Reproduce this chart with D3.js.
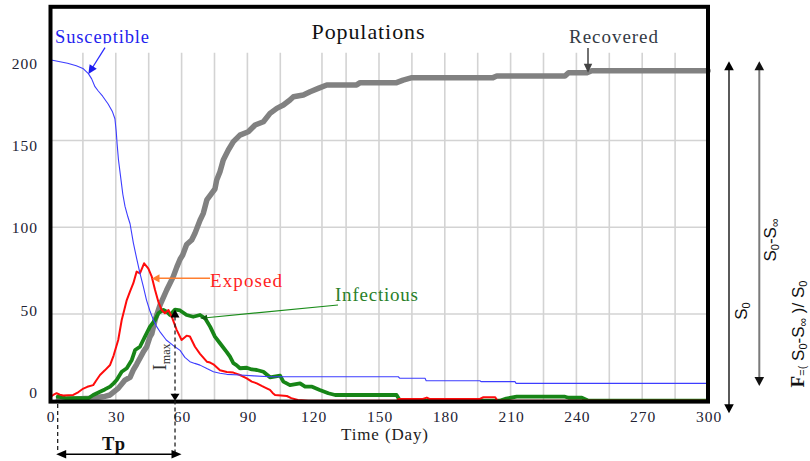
<!DOCTYPE html>
<html>
<head>
<meta charset="utf-8">
<script src="https://cdn.jsdelivr.net/npm/d3@7"></script>
<style>
  html, body { margin: 0; padding: 0; background: #fff; }
  svg { display: block; }
</style>
</head>
<body>
<svg id="chart" width="810" height="461"></svg>
<script>
// ---- data ---------------------------------------------------------------
const xTicks = [0, 30, 60, 90, 120, 150, 180, 210, 240, 270, 300];
const yTicks = [0, 50, 100, 150, 200];
const xGridDays = [15, 30, 45, 60, 75, 90, 105, 124, 135, 150, 165, 180, 195, 210, 225, 240, 255, 270, 285];
const yGridValues = [50, 100, 150];

// [day, individuals]
const susceptible = [
  [0, 196.5], [4, 195.5], [8, 194.5], [12, 193], [15, 191.5], [17.5, 188.5], [19, 185.5],
  [20.5, 181], [22, 178.5], [24, 175.5], [26.5, 171], [28.5, 166.5], [29.6, 162.5],
  [30.2, 155], [30.6, 148], [31.2, 139], [32.3, 128], [33.2, 119], [34.2, 112], [35.5, 106],
  [36.5, 102], [38, 91], [39.5, 82], [41, 73.5], [42.5, 66], [44, 58], [45.5, 52], [47, 47],
  [48.5, 43], [50, 40], [53, 35], [56, 32], [59.3, 29], [61.5, 25], [63.8, 22.5], [66, 21.5],
  [68.4, 20.5], [71.5, 18.5], [74.5, 16.7], [77.5, 15.8], [80.6, 15.2], [86.6, 14.8],
  [93, 14.3], [100, 13.8], [158.8, 13.8], [159.5, 12.9], [171, 12.9], [171.5, 11.5],
  [196, 11.5], [196.5, 11], [212, 11], [212.5, 10], [300, 10]
];
const exposed = [
  [0, 2], [1.5, 3.3], [3, 4.3], [4.5, 3.5], [6, 3], [10.6, 3.3], [13, 5], [15.2, 7], [17, 8],
  [19.7, 9], [21, 11.5], [22.8, 14.8], [25, 17.5], [27.4, 20.6], [29, 26], [31.1, 35],
  [32.7, 46.5], [34, 53], [35, 58], [36.5, 63], [38, 67.7], [39.5, 74.4], [41, 73.4],
  [42.9, 79.2], [44.8, 76.3], [46.4, 71.5], [47.9, 63.8], [49.4, 57], [50.9, 52.3],
  [52.4, 50.4], [54, 52.3], [55.5, 48.4], [57.8, 40.7], [60, 35], [62.3, 37.5], [63.8, 37],
  [66.1, 31.1], [68.4, 27], [71.5, 22.5], [73, 22], [74.5, 21], [77.5, 17.5], [80.6, 16.5],
  [83.6, 16.2], [86.6, 14.8], [89.7, 12.9], [92, 11], [94.3, 10], [96.5, 8.5], [98.8, 7.1],
  [100.3, 6.2], [101.5, 4.5], [102.6, 3.3], [108, 2.7], [110, 1.5], [113, 0.4], [117.8, 0],
  [158, 0], [159, 1], [170, 1], [171.8, 1.8], [173, 1], [196, 1], [197.6, 2], [203, 2],
  [204, 0], [300, 0]
];
const infectious = [
  [3.5, 2.3], [5, 2], [7.6, 1.4], [17.5, 1.4], [19.7, 3.3], [22.8, 5.2], [25, 6.5],
  [27.4, 8.1], [29, 10], [30.4, 11.9], [32.7, 16.7], [35, 18.7], [37.3, 23.5], [38.8, 29.2],
  [41, 31.1], [43.3, 36.9], [45.6, 42.7], [47.9, 46.5], [49.4, 50.4], [51.7, 52.3],
  [53.2, 51.3], [54.7, 49.4], [57, 52.5], [59.3, 52], [62.3, 49.4], [65.3, 48.4],
  [68.4, 49.4], [70.7, 47.5], [73, 42.7], [75.2, 36.9], [77.5, 33.1], [80.6, 28],
  [82, 25.5], [83.6, 21.6], [85, 20.5], [86.6, 18.7], [89.7, 19], [92, 18], [94.3, 17.7],
  [97.3, 16.7], [100.3, 13.5], [104.9, 14.5], [106.4, 11], [109.4, 9], [114, 10],
  [116.3, 8.1], [119.5, 8.1], [123, 6.2], [126.9, 4.3], [130, 3.3], [158, 3.3], [159.6, 0],
  [205, 0], [208, 1.2], [212.8, 2.3], [234.8, 2.3], [236.4, 1.7], [242.5, 1.7], [245.5, 0],
  [300, 0]
];
const recovered = [
  [3.8, 0.4], [10, 0.8], [18.2, 1.4], [22, 2], [25, 2.5], [27.4, 3.3], [29.5, 5.5],
  [31.1, 7.1], [34.2, 11.9], [36.5, 13.5], [38, 17.7], [39.5, 21], [41, 24.5], [42.5, 28],
  [44.1, 31.1], [45.6, 36.9], [46.4, 38.5], [47.9, 46.5], [50.2, 55.2], [53.2, 63.8],
  [56.2, 71.5], [57.8, 77], [59.3, 81.5], [60.5, 84], [62.3, 90], [64.6, 92.6], [66.1, 96.5],
  [68.4, 104], [69.9, 108], [71.5, 115.7], [73.7, 119.5], [75.2, 122], [76, 127.2],
  [77.5, 132], [79, 138.7], [81.3, 144.5], [83.6, 149.3], [86.6, 153.1], [90.4, 155],
  [93.5, 158.9], [97.3, 160.8], [100.3, 165.6], [103.4, 168.5], [106.4, 170.4],
  [109.4, 173.3], [111, 175.2], [115.5, 176.2], [118.6, 178.1], [122.3, 180], [126.2, 182],
  [139.8, 182], [141.4, 183.3], [158, 183.3], [161, 184.8], [165, 186.2], [202, 186.2],
  [203.7, 187.1], [234.8, 187.1], [236.4, 189], [244.8, 189], [247, 190.2], [300, 190.2]
];

// ---- scales ---------------------------------------------------------------
const svg = d3.select("#chart");
const frame = { left: 50.5, top: 6.8, right: 708, bottom: 401.6 };

const x = d3.scaleLinear().domain([0, 300]).range([50, 708]);
const y = d3.scaleLinear().domain([0, 200]).range([400.7, 53.7]);
// tick labels of the value axis sit on their own, slightly tighter spacing
const yLabel = d3.scaleLinear().domain([0, 200]).range([392.5, 63.5]);

const SERIF = "'Liberation Serif', 'Times New Roman', serif";
const SANS = "'Liberation Sans', Arial, sans-serif";

// ---- grid -----------------------------------------------------------------
const grid = svg.append("g").attr("stroke", "#d3d3d3").attr("stroke-width", 1.6);
grid.selectAll("line.v").data(xGridDays).join("line")
  .attr("class", "v")
  .attr("x1", d => x(d)).attr("x2", d => x(d))
  .attr("y1", y(200) - 1).attr("y2", y(0));
grid.selectAll("line.h").data(yGridValues).join("line")
  .attr("class", "h")
  .attr("x1", frame.left).attr("x2", frame.right)
  .attr("y1", d => y(d)).attr("y2", d => y(d));

// ---- series ---------------------------------------------------------------
const line = d3.line().x(d => x(d[0])).y(d => y(d[1])).curve(d3.curveLinear);
const series = [
  { data: recovered,   color: "#818181", width: 5.5 },
  { data: infectious,  color: "#178517", width: 3.8 },
  { data: exposed,     color: "#ff0b0b", width: 2 },
  { data: susceptible, color: "#3d3dff", width: 1.1 }
];
svg.append("g").selectAll("path").data(series).join("path")
  .attr("d", d => line(d.data))
  .attr("fill", "none")
  .attr("stroke", d => d.color)
  .attr("stroke-width", d => d.width)
  .attr("stroke-linejoin", "round")
  .attr("stroke-linecap", "round");

// ---- frame ----------------------------------------------------------------
svg.append("rect")
  .attr("x", frame.left).attr("y", frame.top)
  .attr("width", frame.right - frame.left).attr("height", frame.bottom - frame.top)
  .attr("fill", "none").attr("stroke", "#000").attr("stroke-width", 4);

// ---- axes labels ----------------------------------------------------------
const xAxis = svg.append("g")
  .attr("transform", `translate(0,402)`)
  .call(d3.axisBottom(x).tickValues(xTicks).tickSize(0).tickPadding(9).tickFormat(d3.format("d")));
xAxis.select(".domain").remove();
xAxis.selectAll("text")
  .attr("font-family", SERIF).attr("font-size", 15.5).attr("fill", "#222233")
  .attr("letter-spacing", 1).attr("dx", 0.5);

const yAxis = svg.append("g")
  .attr("transform", `translate(38,0)`)
  .call(d3.axisLeft(yLabel).tickValues(yTicks).tickSize(0).tickPadding(0).tickFormat(d3.format("d")));
yAxis.select(".domain").remove();
yAxis.selectAll("text")
  .attr("font-family", SERIF).attr("font-size", 15.5).attr("fill", "#222233")
  .attr("letter-spacing", 1);

svg.append("text")
  .attr("x", 341).attr("y", 440)
  .attr("font-family", SERIF).attr("font-size", 17).attr("fill", "#222")
  .attr("textLength", 87).attr("lengthAdjust", "spacing")
  .text("Time (Day)");

svg.append("text")
  .attr("x", 311.5).attr("y", 39.3)
  .attr("font-family", SERIF).attr("font-size", 22).attr("fill", "#111")
  .attr("textLength", 113).attr("lengthAdjust", "spacing")
  .text("Populations");

// ---- annotation helpers ---------------------------------------------------
function head(parent, tx, ty, fx, fy, len, hw, color) {
  const a = Math.atan2(ty - fy, tx - fx);
  const bx = tx - len * Math.cos(a), by = ty - len * Math.sin(a);
  const px = -Math.sin(a) * hw, py = Math.cos(a) * hw;
  parent.append("path")
    .attr("d", `M${tx},${ty}L${bx + px},${by + py}L${bx - px},${by - py}Z`)
    .attr("fill", color);
}
function pointer(parent, x1, y1, x2, y2, color, width, headColor, len, hw) {
  const a = Math.atan2(y2 - y1, x2 - x1);
  parent.append("line")
    .attr("x1", x1).attr("y1", y1)
    .attr("x2", x2 - (len - 1) * Math.cos(a)).attr("y2", y2 - (len - 1) * Math.sin(a))
    .attr("stroke", color).attr("stroke-width", width);
  head(parent, x2, y2, x1, y1, len, hw, headColor);
}
const notes = svg.append("g");

// series labels
notes.append("clipPath").attr("id", "susClip")
  .append("rect").attr("x", 0).attr("y", 0).attr("width", 200).attr("height", 43.6);
notes.append("text")
  .attr("clip-path", "url(#susClip)")
  .attr("x", 55).attr("y", 42.9)
  .attr("font-family", SERIF).attr("font-size", 18.5).attr("fill", "#1f1fee")
  .attr("textLength", 94).attr("lengthAdjust", "spacing")
  .text("Susceptible");
pointer(notes, 105, 47.7, x(17.5), y(188.3), "#2a2aff", 1.3, "#1a1aee", 9, 4.2);

notes.append("text")
  .attr("x", 569).attr("y", 43.3)
  .attr("font-family", SERIF).attr("font-size", 19).attr("fill", "#333a44")
  .attr("textLength", 89).attr("lengthAdjust", "spacing")
  .text("Recovered");
pointer(notes, 588, 48, x(245.3), y(189), "#444", 1.5, "#444", 9, 4.2);

notes.append("text")
  .attr("x", 210).attr("y", 286.7)
  .attr("font-family", SERIF).attr("font-size", 19).attr("fill", "#ff1f1f")
  .attr("textLength", 72).attr("lengthAdjust", "spacing")
  .text("Exposed");
pointer(notes, 210, 278.3, x(46.5), y(70.5), "#ff7f30", 1.5, "#ff7f30", 7.5, 4.2);

notes.append("text")
  .attr("x", 335).attr("y", 300.7)
  .attr("font-family", SERIF).attr("font-size", 19).attr("fill", "#2a7f2a")
  .attr("textLength", 83).attr("lengthAdjust", "spacing")
  .text("Infectious");
pointer(notes, 338, 305, x(68.5), y(47.5), "#1a8c1a", 1.1, "#0f5f0f", 7, 3);

// I_max: peak of the infectious curve
const peak = infectious.reduce((m, d) => (d[1] > m[1] ? d : m));
const px = x(peak[0]);
const tpStart = x(infectious[0][0]);
notes.append("line")
  .attr("x1", px).attr("x2", px)
  .attr("y1", y(peak[1]) + 7).attr("y2", 452)
  .attr("stroke", "#222").attr("stroke-width", 1.3).attr("stroke-dasharray", "4,3");
head(notes, px, y(peak[1]), px, y(peak[1]) + 10, 8, 4.5, "#000");
head(notes, px, y(0), px, y(0) - 10, 7, 4.5, "#000");

const imax = notes.append("text")
  .attr("transform", `translate(${px - 9.5},357) rotate(-90)`)
  .attr("text-anchor", "middle")
  .attr("font-family", SERIF).attr("fill", "#333");
imax.append("tspan").attr("font-size", 19).text("I");
imax.append("tspan").attr("font-size", 12).attr("dy", 4).text("max");

// T_p span: from first infection to the peak
notes.append("line")
  .attr("x1", tpStart).attr("x2", tpStart)
  .attr("y1", 404).attr("y2", 452)
  .attr("stroke", "#222").attr("stroke-width", 1.3).attr("stroke-dasharray", "4,3");
notes.append("line")
  .attr("x1", tpStart + 6).attr("x2", px + 1)
  .attr("y1", 454.3).attr("y2", 454.3)
  .attr("stroke", "#000").attr("stroke-width", 1.5);
head(notes, tpStart - 1.5, 454.3, tpStart + 10, 454.3, 10, 4.2, "#000");
head(notes, px + 6.5, 454.3, px - 5, 454.3, 10, 4.2, "#000");
notes.append("text")
  .attr("x", 102).attr("y", 450)
  .attr("font-family", SERIF).attr("font-size", 18.5).attr("font-weight", "bold").attr("fill", "#111")
  .attr("textLength", 23).attr("lengthAdjust", "spacing")
  .text("Tp");

// ---- right-hand brackets: S0, S0 - S∞ and final size --------------------
const S0 = susceptible[0][1];
const Sinf = susceptible[susceptible.length - 1][1];

const sA = 729;
notes.append("line").attr("x1", sA).attr("x2", sA)
  .attr("y1", y(S0) + 8).attr("y2", y(0) + 6)
  .attr("stroke", "#000").attr("stroke-width", 1.3);
head(notes, sA, y(S0) + 1.5, sA, y(S0) + 20, 9, 4.8, "#000");
head(notes, sA, y(0) + 12.5, sA, y(0), 9, 4.8, "#000");

const sB = 759.3;
notes.append("line").attr("x1", sB).attr("x2", sB)
  .attr("y1", y(S0) + 8).attr("y2", y(Sinf) - 4)
  .attr("stroke", "#7a7a7a").attr("stroke-width", 2);
head(notes, sB, y(S0) + 1.5, sB, y(S0) + 20, 9, 4.8, "#111");
head(notes, sB, y(Sinf) + 2.6, sB, y(Sinf) - 20, 9, 4.8, "#111");

function rotated(cx, cy) {
  return notes.append("text")
    .attr("transform", `translate(${cx},${cy}) rotate(-90)`)
    .attr("text-anchor", "middle")
    .attr("font-family", SANS).attr("fill", "#111");
}
const tS0 = rotated(747, 311);
tS0.append("tspan").attr("font-size", 17).text("S");
tS0.append("tspan").attr("font-size", 11).attr("dy", 3).text("0");

const tDiff = rotated(775.5, 240);
tDiff.append("tspan").attr("font-size", 17).text("S");
tDiff.append("tspan").attr("font-size", 11).attr("dy", 3).text("0");
tDiff.append("tspan").attr("font-size", 17).attr("dy", -3).text("-S");
tDiff.append("tspan").attr("font-size", 12).attr("dy", 3).text("∞");

const tF = rotated(804, 334);
tF.append("tspan").attr("font-family", SERIF).attr("font-weight", "bold").attr("font-size", 19).text("F");
tF.append("tspan").attr("font-size", 11).attr("dy", 1.5).text("=(");
tF.append("tspan").attr("font-size", 17).attr("dy", -1.5).text(" S");
tF.append("tspan").attr("font-size", 11).attr("dy", 2.5).text("0");
tF.append("tspan").attr("font-size", 17).attr("dy", -2.5).text("-S");
tF.append("tspan").attr("font-size", 12).attr("dy", 2.5).text("∞");
tF.append("tspan").attr("font-size", 17).attr("dy", -2.5).text(" )/ S");
tF.append("tspan").attr("font-size", 11).attr("dy", 2.5).text("0");
</script>
</body>
</html>
